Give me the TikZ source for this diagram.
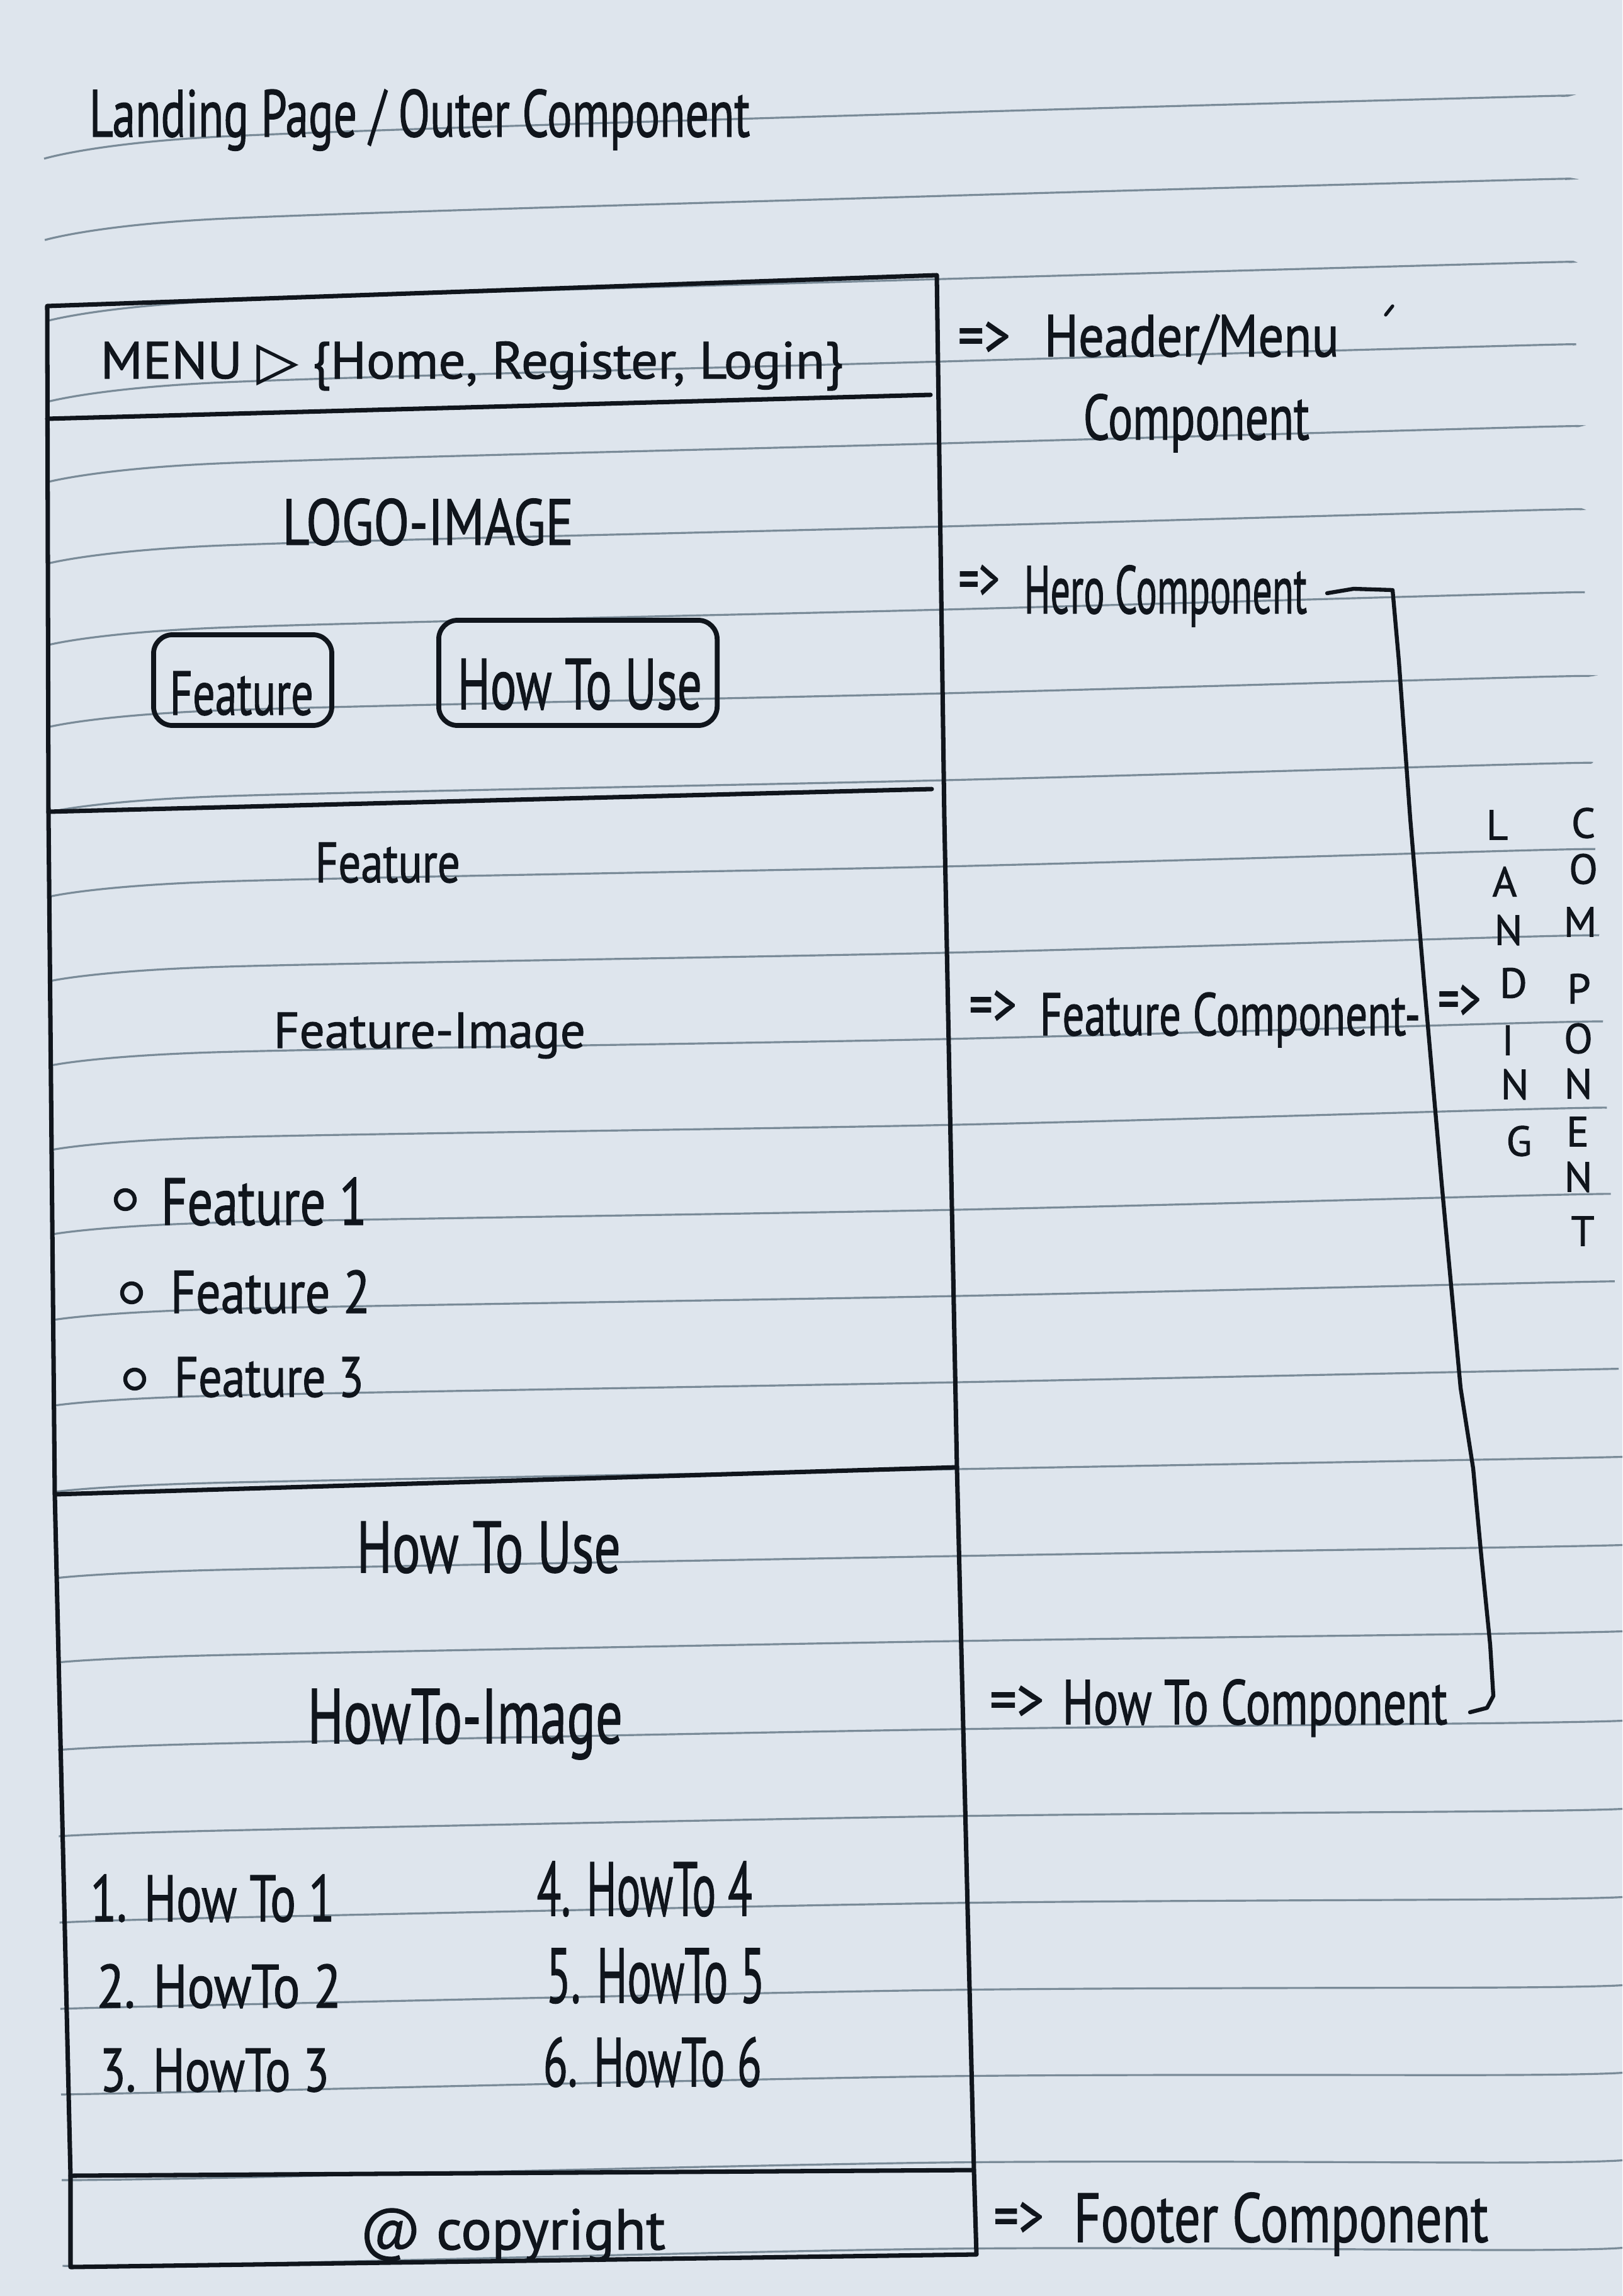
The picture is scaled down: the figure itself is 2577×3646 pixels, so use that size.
\documentclass[tikz,border=0pt]{standalone}
\usepackage{fontspec}
\usepackage{graphicx}
\setmainfont{PT Sans}[FakeBold=1.3]
\newfontfamily\symfont{DejaVu Sans}[FakeBold=1.3]

\definecolor{paper}{HTML}{DEE5ED}
\definecolor{rulecol}{HTML}{7A8B98}
\definecolor{ink}{HTML}{10151C}

% set text at a given size (pt) and stretch it to a given width (px units)
\newsavebox\hwbox
\newcommand\hw[3]{%
  \sbox\hwbox{\fontsize{#2pt}{#2pt}\selectfont #3}%
  \pgfmathsetmacro\hwr{#1*0.284528/\the\wd\hwbox}%
  \scalebox{\hwr}[1]{\usebox\hwbox}}

\tikzset{
  txt/.style={anchor=base west, inner sep=0pt, text=ink},
  ctr/.style={anchor=center, inner sep=0pt, text=ink},
  pen/.style={draw=ink, line width=2pt, line cap=round, line join=round},
  ruling/.style={draw=rulecol, line width=0.9pt},
  btn/.style={draw=ink, line width=2.2pt, rounded corners=0.3cm, inner sep=0pt},
  bullet/.style={circle, draw=ink, line width=1.8pt, minimum size=0.3cm, inner sep=0pt},
  vletter/.style={ctr, font=\fontsize{19}{19}\selectfont},
}

\begin{document}
\begin{tikzpicture}[x=0.01cm, y=-0.01cm]
\useasboundingbox (0,0) rectangle (2577,3646);
\fill[paper] (0,0) rectangle (2577,3646);

% notebook rulings
\foreach \r in {154,286,418,549,679,811,943,1076,1214,1351,1488,1625,1762,1899,2038,2177,2317,2457,2594,2736,2876,3016,3156,3295,3434,3573}{
  \pgfmathsetmacro\t{(\r-154)/3141}
  \pgfmathsetmacro\xl{70+27*\t}
  \pgfmathsetmacro\yl{\r+98-67*\t}
  \pgfmathsetmacro\ya{\r+63-37*\t}
  \pgfmathsetmacro\ym{\r+25-23*max(0,(\t-0.5)/0.5)}
  \pgfmathsetmacro\xr{min(2577,2480+0.045*(\r-154))}
  \pgfmathsetmacro\yr{\r-0.02*(\xr-2400)}
  \draw[ruling] plot[smooth, tension=0.5] coordinates {(\xl,\yl) (350,\ya) (1500,\ym) (2400,\r) (\xr,\yr)};
}

% title
\node[txt] (title) at (141,217) {\hw{1049}{30.1}{Landing Page / Outer Component}};

% page frame and section dividers
\draw[pen] (75,486) -- (77,1290) -- (87,2372) -- (112,3455) -- (112,3600)
  -- (1551,3580) -- (1547,3446) -- (1520,2330) -- (1500,1300) -- (1488,437) -- cycle;
\draw[pen] (75,665) -- (1478,627);
\draw[pen] (77,1289) -- (1480,1253);
\draw[pen] (87,2373) -- (1520,2330);
\draw[pen] (112,3455) -- (1546,3446);

% header
\node[txt] (menu) at (159,601) {\hw{1179}{23.6}{MENU {\symfont ▷} \{Home, Register, Login\}}};

% hero
\node[txt] (logo) at (448,865) {\hw{462}{29.3}{LOGO-IMAGE}};
\node[btn, minimum width=2.83cm, minimum height=1.44cm] (btnfeat) at (385.5,1080) {};
\node[txt] (btnfeattxt) at (269,1135) {\hw{228}{28}{Feature}};
\node[btn, minimum width=4.42cm, minimum height=1.67cm] (btnhow) at (918,1068.5) {};
\node[txt] (btnhowtxt) at (726,1126) {\hw{388}{32.5}{How To Use}};

% feature section
\node[txt] (feathead) at (500,1401) {\hw{230}{25.6}{Feature}};
\node[txt] (featimg) at (434,1664) {\hw{495}{22.8}{Feature-Image}};
\node[bullet] (b1) at (199,1905) {};
\node[bullet] (b2) at (209,2053) {};
\node[bullet] (b3) at (214,2190) {};
\node[txt] (f1) at (255,1945) {\hw{327}{30}{Feature 1}};
\node[txt] (f2) at (270,2085) {\hw{317}{27.2}{Feature 2}};
\node[txt] (f3) at (276,2218) {\hw{301}{25.6}{Feature 3}};

% how-to section
\node[txt] (howhead) at (566,2497) {\hw{419}{32.9}{How To Use}};
\node[txt] (howimg) at (488,2768) {\hw{500}{35}{HowTo-Image}};
\node[txt] (h1) at (143,3051) {\hw{388}{29.7}{1. How To 1}};
\node[txt] (h2) at (153,3188) {\hw{388}{27.6}{2. HowTo 2}};
\node[txt] (h3) at (158,3321) {\hw{364}{27.6}{3. HowTo 3}};
\node[txt] (h4) at (852,3042) {\hw{342}{34.5}{4. HowTo 4}};
\node[txt] (h5) at (867,3180) {\hw{347}{35}{5. HowTo 5}};
\node[txt] (h6) at (862,3313) {\hw{347}{31.3}{6. HowTo 6}};

% footer
\node[txt] (copy) at (571,3572) {\hw{485}{26}{@ copyright}};

% component labels
\node[ctr] (arHeader) at (1563,539) {\hw{83}{28}{=>}};
\node[txt] (lbHeader) at (1658,566) {\hw{468}{26.8}{Header/Menu}};
\node[txt] (lbHeader2) at (1720,698) {\hw{359}{28.9}{Component}};
\draw[pen, line width=1.5pt] (2201,500) -- (2212,486);

\node[ctr] (arHero) at (1555,925) {\hw{65}{28}{=>}};
\node[txt] (lbHero) at (1626,974) {\hw{449}{30.5}{Hero Component}};

\node[ctr] (arFeat) at (1577,1601) {\hw{75}{28}{=>}};
\node[txt] (lbFeat) at (1651,1644) {\hw{604}{27.2}{Feature Component-}};

\node[ctr] (arHow) at (1615,2705) {\hw{86}{28}{=>}};
\node[txt] (lbHow) at (1687,2738) {\hw{611}{28.5}{How To Component}};

\node[ctr] (arFoot) at (1618,3525) {\hw{79}{28}{=>}};
\node[txt] (lbFoot) at (1705,3560) {\hw{658}{31.3}{Footer Component}};

% bracket grouping hero .. how-to
\coordinate (brA) at (2108,942);
\coordinate (brB) at (2212,937);
\coordinate (brC) at (2372,2693);
\coordinate (brD) at (2335,2719);
\draw[pen, line width=1.8pt] (brA) -- (2150,935) -- (brB) -- (2222,1050) -- (2240,1300)
  -- (2262,1560) -- (2290,1880) -- (2320,2204) -- (2340,2332) -- (2353,2472)
  -- (2367,2612) -- (brC) -- (2362,2712) -- (brD);

\node[ctr] (arLand) at (2318,1592) {\hw{68}{28}{=>}};

% vertical words
\foreach \ch/\x/\y [count=\i] in {L/2378/1310, A/2390/1400, N/2396/1477, D/2404/1561, I/2395/1652, N/2406/1722, G/2413/1812}
  \node[vletter] (land\i) at (\x,\y) {\ch};
\foreach \ch/\x/\y [count=\i] in {C/2515/1307, O/2515/1380, M/2510/1464, P/2508/1570, O/2507/1649, N/2507/1721, E/2506/1797, N/2507/1869, T/2514/1955}
  \node[vletter] (comp\i) at (\x,\y) {\ch};
\end{tikzpicture}
\end{document}
